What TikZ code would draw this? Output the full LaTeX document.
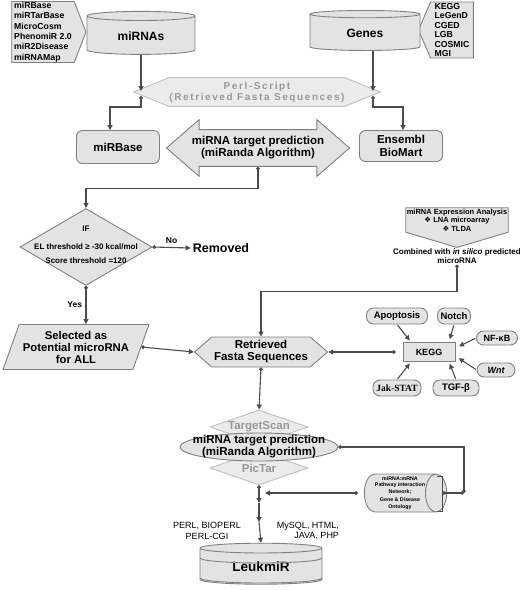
\documentclass[tikz,border=0pt]{standalone}
\usepackage{fontspec}
\setmainfont{Liberation Sans}
\newfontfamily\timesbf{Liberation Serif}
\newfontfamily\dejavu{DejaVu Sans}
\usetikzlibrary{shapes.geometric,shapes.symbols,shapes.arrows,arrows.meta}
\newcommand{\fz}[2]{\fontsize{#1}{#2}\selectfont}
\begin{document}
\begin{tikzpicture}[x=1pt,y=-1pt,
  lc/.style={draw=black!70, line width=1.1pt},
  arr/.style={lc, -{Triangle[length=5pt,width=5pt]}},
  darr/.style={lc, {Circle[length=3.6pt]}-{Triangle[length=5pt,width=5pt]}},
  dd/.style={lc, {Circle[length=3.6pt]}-{Circle[length=3.6pt]}},
  sh/.style={draw=black!50, fill=black!11, line width=0.9pt, font=\bfseries, inner sep=2pt},
  pale/.style={draw=black!25, fill=black!8, line width=0.9pt, text=black!40},
  rbox/.style={sh, rounded corners=6pt, align=center},
  pill/.style={sh, rounded corners=7pt, inner sep=0pt},
  db/.style={sh, cylinder, shape border rotate=90},
  lst/.style={sh, signal, signal from=nowhere, align=left, inner ysep=0pt, inner xsep=2.5pt},
  hexa/.style={signal, signal to=east and west, signal from=nowhere, align=center}]
\useasboundingbox (0,0) rectangle (520,590);
\draw  (43,32) node[lst, signal to=east, signal pointer angle=138, minimum width=73pt, minimum height=61pt, font=\bfseries\fz{8.7}{10.3}] (v1) {miRBase\\miRTarBase\\MicroCosm\\PhenomiR 2.0\\miR2Disease\\miRNAMap};
\draw  (452,30) node[lst, signal to=west, signal pointer angle=133, minimum width=55pt, minimum height=56pt, font=\bfseries\fz{8.7}{9.4}] (v2) {KEGG\\LeGenD\\CGED\\LGB\\COSMIC\\MGI};
\draw  (141,36) node[db, aspect=0.18, minimum width=108pt, minimum height=43pt, font=\bfseries\fz{12}{14}] (v3) {miRNAs};
\draw  (365,33) node[db, aspect=0.18, minimum width=110pt, minimum height=40pt, font=\bfseries\fz{12}{14}] (v4) {Genes};
\draw  (257,92) node[hexa, pale, signal pointer angle=44, minimum width=212pt, minimum height=29pt, inner sep=0pt, font=\bfseries\fz{10}{11}\addfontfeatures{LetterSpace=16}] (v5) {Perl-Script\\(Retrieved Fasta Sequences)};
\draw  (118,147) node[rbox, minimum width=83pt, minimum height=33pt, font=\bfseries\fz{11.5}{13}] (v6) {miRBase};
\draw  (401,146) node[rbox, minimum width=83pt, minimum height=31pt, font=\bfseries\fz{11.5}{13}] (v7) {Ensembl\\BioMart};
\draw  (258,148) node[sh, double arrow, double arrow head extend=10pt, double arrow tip angle=82, minimum height=183pt, inner xsep=2pt, inner ysep=6.5pt, align=center, font=\bfseries\fz{11.5}{12}] (v8) {miRNA target prediction\\(miRanda Algorithm)};
\draw  (86,247) node[sh, diamond, minimum width=132pt, minimum height=77pt, inner sep=0pt] (v9) {};
\draw  (86,245) node[align=center, inner sep=0pt, font=\bfseries\fz{8}{14}] (v10) {IF\\[4pt]EL threshold ≥ -30 kcal/mol\\Score threshold =120};
\draw  (221,248) node[font=\bfseries\fz{12.5}{14}, inner sep=2pt] (v11) {Removed};
\draw  (76,347) node[sh, trapezium, trapezium left angle=65, trapezium right angle=115, trapezium stretches=true, minimum width=146pt, minimum height=45pt, inner sep=0pt, align=center, font=\bfseries\fz{11.3}{12}] (v12) {Selected as\\Potential microRNA\\for ALL};
\draw  (261,352) node[sh, hexa, signal pointer angle=82, minimum width=133pt, minimum height=30pt, inner sep=0pt, font=\bfseries\fz{11.5}{12}] (v13) {Retrieved\\Fasta Sequences};
\draw  (457,220) node[sh, signal, signal to=south, signal from=nowhere, signal pointer angle=147, minimum width=102pt, minimum height=36pt, inner sep=1pt, align=center, font=\bfseries\fz{7.5}{8.5}] (v14) {miRNA Expression Analysis\\{\dejavu ❖} LNA microarray\\{\dejavu ❖} TLDA};
\draw  (457,256) node[align=center, inner sep=1pt, font=\bfseries\fz{8}{9}] (v15) {Combined with \textit{in silico} predicted\\microRNA};
\draw  (429,352) node[sh, minimum width=52pt, minimum height=19pt, font=\bfseries\fz{9}{10}] (v16) {KEGG};
\draw  (397,316) node[pill, minimum width=61pt, minimum height=16pt, font=\bfseries\fz{9.5}{11}] (v17) {Apoptosis};
\draw  (454,316) node[pill, minimum width=33pt, minimum height=16pt, font=\bfseries\fz{9.5}{11}] (v18) {Notch};
\draw  (497,338) node[pill, minimum width=41pt, minimum height=14pt, font=\bfseries\fz{9}{10}] (v19) {NF-κB};
\draw  (496,370) node[pill, minimum width=38pt, minimum height=14pt, font=\bfseries\itshape\fz{9}{10}] (v20) {Wnt};
\draw  (397,388) node[pill, minimum width=48pt, minimum height=16pt, font=\timesbf\bfseries\fz{9.5}{11}] (v21) {Jak-STAT};
\draw  (456,388) node[pill, minimum width=46pt, minimum height=16pt, font=\bfseries\fz{9.5}{11}] (v22) {TGF-β};
\draw  (259,427) node[pale, diamond, aspect=2.9, minimum width=98pt, minimum height=34pt, inner sep=0pt, font=\bfseries\fz{11.5}{13}] (v23) {TargetScan};
\draw  (259,468) node[pale, diamond, aspect=2.9, minimum width=98pt, minimum height=34pt, inner sep=0pt, font=\bfseries\fz{11.5}{13}] (v24) {PicTar};
\draw  (259,447) node[sh, ellipse, minimum width=158pt, minimum height=28pt, inner sep=0pt] (v25) {};
\draw  (259,447) node[align=center, inner sep=0pt, font=\bfseries\fz{11.5}{12}] (v26) {miRNA target prediction\\(miRanda Algorithm)};
\draw  (400,493) node[sh, cylinder, aspect=0.63, minimum width=38pt, minimum height=74pt, inner sep=0pt, align=center, font=\bfseries\fz{5.3}{6.8}] (v27) {miRNA:mRNA\\Pathway interaction\\Network;\\[1.5pt]Gene \& Disease\\Ontology};
\draw  (261,567) node[db, aspect=0.16, minimum width=122pt, minimum height=41pt, font=\bfseries\fz{13.5}{15}] (v28) {LeukmiR};
\draw[draw=black!50, line width=0.9pt] (200,558) arc[start angle=180, end angle=360, x radius=61pt, y radius=5pt];
\draw[draw=black!50, line width=0.9pt] (200,578) arc[start angle=180, end angle=360, x radius=61pt, y radius=5pt];
\draw  (207,531) node[align=center, inner sep=0pt, font=\fz{9}{10.5}] (v29) {PERL, BIOPERL\\PERL-CGI};
\draw  (308,531) node[align=right, inner sep=0pt, font=\fz{9}{10.5}] (v30) {MySQL, HTML,\\JAVA, PHP};
\coordinate (c1) at (141,91);
\coordinate (c2) at (141,96);
\coordinate (c3) at (373,91);
\coordinate (c4) at (373,96);
\coordinate (c5) at (259,503);
\coordinate (c6) at (259,522);
\coordinate (c7) at (265,493);
\coordinate (c8) at (442,493);
\coordinate (c9) at (464,493);
\draw[arr] (v3.south) -- (c1);
\draw[darr] (c2) -- ++(0,11) -| ([xshift=-8pt]v6.north);
\draw[arr] (v4.south -| c3) -- (c3);
\draw[darr] (c4) -- ++(0,11) -| ([xshift=2pt]v7.north);
\draw[darr] (v8.south) -- ++(0,22) -| (v9.north);
\draw[darr] (v9.east) -- (v11.west) node[midway, above, font=\bfseries\fz{8.5}{10}] (v31) {No};
\draw[darr] (v9.south) -- (v9.south |- v12.north) node[midway, left, font=\bfseries\fz{8.5}{10}] (v32) {Yes};
\draw[darr] (v12.east) -- (v13.west);
\draw[darr] (v15.south) -- ++(0,27) -| (v13.north);
\draw[darr] ([xshift=-7pt]v16.west) -- (v13.east);
\draw[arr, shorten <=1pt, shorten >=2pt] (v17.south) -- ([xshift=-18pt]v16.north);
\draw[arr, shorten <=1pt, shorten >=3pt] (v18.south) -- ([xshift=20pt]v16.north);
\draw[arr, shorten <=1pt, shorten >=4pt] (v19.west) -- ([yshift=4pt]v16.east);
\draw[arr, shorten <=1pt, shorten >=4pt] (v20.west) -- ([yshift=-4pt]v16.east);
\draw[arr, shorten <=1pt, shorten >=2pt] (v21.north) -- ([xshift=-18pt]v16.south);
\draw[arr, shorten <=1pt, shorten >=2pt] (v22.north) -- ([xshift=20pt]v16.south);
\draw[darr] (v13.south) -- (v23.north);
\draw[darr] (v24.south) -- (c5);
\draw[arr] (c5) -- (c6);
\draw[arr] (c6) -- (v28.north);
\draw[darr] ([xshift=-6pt]v27.west) -- (c7);
\draw[lc, line width=0.9pt] (437,476) -- (442,476) -- (442,511) -- (437,511);
\draw[dd] (c8) -- (c9);
\draw[dd] (c9) |- (v25.east);
\end{tikzpicture}
\end{document}
